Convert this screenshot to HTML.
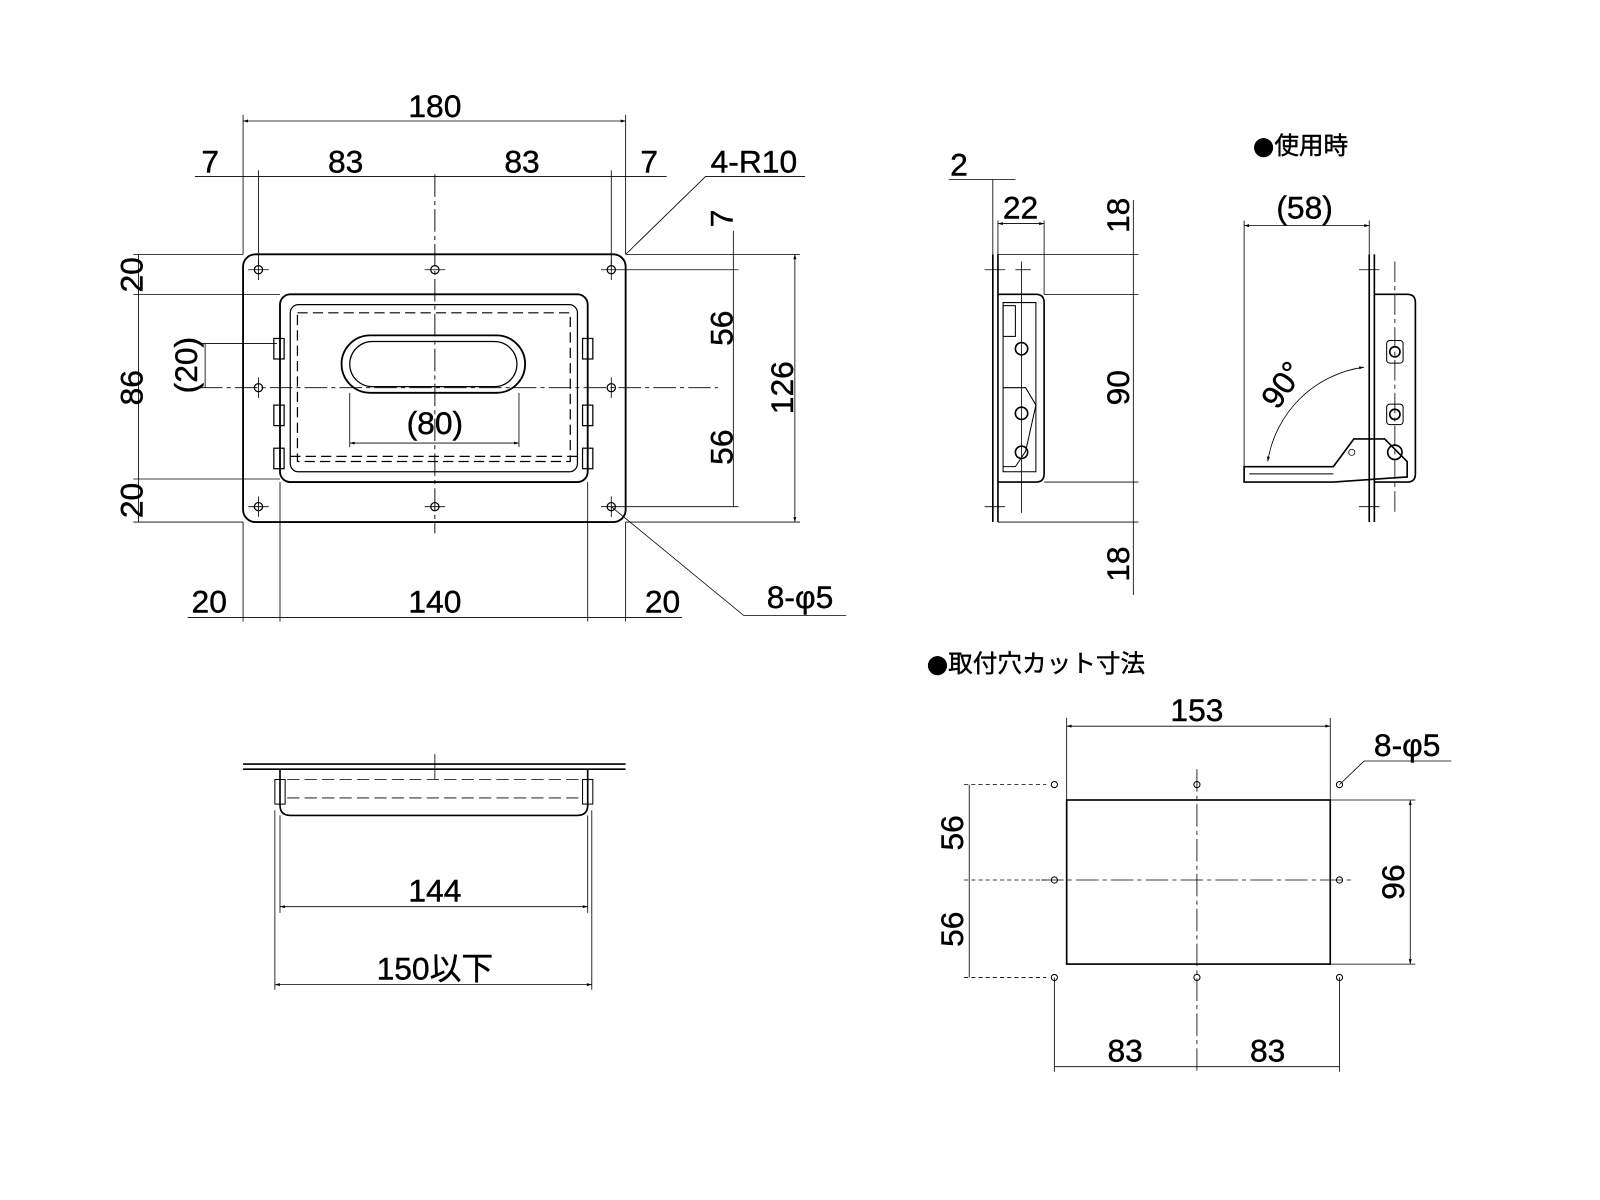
<!DOCTYPE html>
<html><head><meta charset="utf-8"><style>
html,body{margin:0;padding:0;background:#fff;}
svg{display:block}
text{font-family:"Liberation Sans","Noto Sans CJK JP",sans-serif;font-size:31px;fill:#000;text-anchor:middle;stroke:#000;stroke-width:0.4}
.b{font-family:"DejaVu Sans","Noto Sans CJK JP",sans-serif;font-size:24px}
</style></head><body>
<svg width="1600" height="1200" viewBox="0 0 1560 1170" preserveAspectRatio="none" xmlns="http://www.w3.org/2000/svg">
<defs>
<marker id="a" viewBox="0 0 10 10" refX="10" refY="5" markerWidth="8" markerHeight="6" orient="auto-start-reverse"><path d="M0,2 L10,5 L0,8z" fill="#000"/></marker>
</defs>
<g stroke="#000" fill="none" stroke-width="1.2">
<!-- FRONT VIEW -->
<rect x="237" y="248" width="373" height="261" rx="12" stroke-width="1.8"/>
<rect x="273" y="287" width="300" height="183" rx="10" stroke-width="1.8"/>
<rect x="283" y="297" width="280" height="163" rx="8"/>
<rect x="290" y="305" width="266" height="145" stroke-dasharray="10,5"/>
<rect x="333" y="327" width="179" height="56" rx="28" stroke-width="1.8"/>
<rect x="341" y="333" width="163" height="44" rx="22"/>
<rect x="267" y="330" width="10" height="20"/><rect x="267" y="395" width="10" height="20"/><rect x="267" y="437" width="10" height="20"/>
<rect x="568" y="330" width="10" height="20"/><rect x="568" y="395" width="10" height="20"/><rect x="568" y="437" width="10" height="20"/>
<line x1="283" y1="445" x2="563" y2="445" stroke-dasharray="10,5"/>
<line x1="424" y1="170" x2="424" y2="520" stroke-dasharray="22,4,4,4" stroke-width="0.9"/>
<line x1="195" y1="378" x2="700" y2="378" stroke-dasharray="22,4,4,4" stroke-width="0.9"/>
<g stroke-width="1.2">
<circle cx="252" cy="263" r="4"/><circle cx="424" cy="263" r="4"/><circle cx="596" cy="263" r="4"/>
<circle cx="252" cy="378" r="4"/><circle cx="596" cy="378" r="4"/>
<circle cx="252" cy="494" r="4"/><circle cx="424" cy="494" r="4"/><circle cx="596" cy="494" r="4"/>
</g>
<g stroke-width="0.8">
<line x1="242" y1="263" x2="262" y2="263"/><line x1="252" y1="253" x2="252" y2="273"/>
<line x1="414" y1="263" x2="434" y2="263"/><line x1="586" y1="263" x2="606" y2="263"/><line x1="596" y1="253" x2="596" y2="273"/>
<line x1="252" y1="368" x2="252" y2="388"/><line x1="596" y1="368" x2="596" y2="388"/>
<line x1="242" y1="494" x2="262" y2="494"/><line x1="252" y1="484" x2="252" y2="504"/>
<line x1="414" y1="494" x2="434" y2="494"/><line x1="586" y1="494" x2="606" y2="494"/><line x1="596" y1="484" x2="596" y2="504"/>
</g>
<line x1="237" y1="112" x2="237" y2="248" stroke-width="0.8"/><line x1="610" y1="112" x2="610" y2="248" stroke-width="0.8"/>
<line x1="252" y1="166" x2="252" y2="258" stroke-width="0.8"/><line x1="596" y1="166" x2="596" y2="258" stroke-width="0.8"/>
<line x1="237" y1="118" x2="610" y2="118" marker-start="url(#a)" marker-end="url(#a)" stroke-width="0.8"/>
<line x1="190" y1="172" x2="650" y2="172" stroke-width="0.8"/>
<polyline points="610,248 688,172 785,172" stroke-width="0.8"/>
<g stroke-width="0.8">
<line x1="130" y1="248" x2="237" y2="248"/><line x1="130" y1="287" x2="273" y2="287"/>
<line x1="130" y1="467" x2="273" y2="467"/><line x1="130" y1="509" x2="237" y2="509"/>
<line x1="135" y1="248" x2="135" y2="509"/>
<line x1="195" y1="335" x2="270" y2="335"/><line x1="200" y1="335" x2="200" y2="378"/>
<line x1="341" y1="383" x2="341" y2="436"/><line x1="506" y1="383" x2="506" y2="436"/>
<line x1="341" y1="432" x2="506" y2="432" marker-start="url(#a)" marker-end="url(#a)"/>
<line x1="610" y1="248" x2="780" y2="248"/><line x1="606" y1="263" x2="720" y2="263"/>
<line x1="606" y1="494" x2="720" y2="494"/><line x1="610" y1="509" x2="780" y2="509"/>
<line x1="715" y1="225" x2="715" y2="494"/>
<line x1="775" y1="248" x2="775" y2="509" marker-start="url(#a)" marker-end="url(#a)"/>
<line x1="237" y1="509" x2="237" y2="606"/><line x1="610" y1="509" x2="610" y2="606"/>
<line x1="273" y1="470" x2="273" y2="606"/><line x1="573" y1="470" x2="573" y2="606"/>
<line x1="183" y1="602" x2="665" y2="602"/>
<polyline points="596,494 725,600 825,600"/>
</g>

<!-- SIDE VIEW -->
<g stroke-width="1.6">
<line x1="968" y1="248" x2="968" y2="509"/><line x1="973" y1="248" x2="973" y2="509"/>
<path d="M973,287 L1010,287 Q1018,287 1018,295 L1018,462 Q1018,470 1010,470 L973,470"/>
<path d="M978,295 L1010,295 L1010,460 L978,460 Z" stroke-width="1"/>
<rect x="978" y="298" width="12" height="30" stroke-width="1"/>
<circle cx="996" cy="340" r="6"/><circle cx="996" cy="403" r="6"/><circle cx="996" cy="441" r="6"/>
<path d="M978,378 L1000,378 L1010,395 L1000,440 L990,455 L978,455" stroke-width="1"/>
</g>
<g stroke-width="0.8">
<line x1="960" y1="263" x2="980" y2="263"/><line x1="960" y1="494" x2="980" y2="494"/>
<line x1="990" y1="263" x2="1005" y2="263"/><line x1="996" y1="255" x2="996" y2="500"/>
<line x1="968" y1="175" x2="968" y2="248"/><line x1="973" y1="215" x2="973" y2="248"/>
<line x1="1018" y1="215" x2="1018" y2="287"/>
<line x1="925" y1="175" x2="990" y2="175"/>
<line x1="973" y1="218" x2="1018" y2="218" marker-start="url(#a)" marker-end="url(#a)"/>
<line x1="973" y1="248" x2="1110" y2="248"/><line x1="1018" y1="287" x2="1110" y2="287"/>
<line x1="1018" y1="470" x2="1110" y2="470"/><line x1="973" y1="509" x2="1110" y2="509"/>
<line x1="1105" y1="195" x2="1105" y2="580"/>
</g>

<!-- USE VIEW -->
<g stroke-width="1.6">
<line x1="1335" y1="248" x2="1335" y2="509"/><line x1="1340" y1="248" x2="1340" y2="509"/>
<path d="M1340,287 L1372,287 Q1380,287 1380,295 L1380,462 Q1380,470 1372,470 L1340,470"/>
<rect x="1352" y="332" width="16" height="22" rx="3" stroke-width="1"/>
<rect x="1352" y="394" width="16" height="20" rx="3" stroke-width="1"/>
<circle cx="1360" cy="343" r="5"/><circle cx="1360" cy="404" r="5"/><circle cx="1360" cy="441" r="7"/>
<path d="M1213,455 L1300,455 L1320,428 L1350,428 L1372,450 L1372,465 L1300,470 L1213,470 Z"/>
<path d="M1218,462 L1300,462" stroke-width="1"/>
</g>
<g stroke-width="0.8">
<circle cx="1318" cy="441" r="3"/>
<line x1="1213" y1="215" x2="1213" y2="470"/><line x1="1335" y1="215" x2="1335" y2="248"/>
<line x1="1213" y1="220" x2="1335" y2="220" marker-start="url(#a)" marker-end="url(#a)"/>
<path d="M1236,450 A110,110 0 0 1 1330,358" marker-start="url(#a)" marker-end="url(#a)"/>
<line x1="1325" y1="263" x2="1345" y2="263"/><line x1="1325" y1="494" x2="1345" y2="494"/>
<line x1="1360" y1="255" x2="1360" y2="500" stroke-dasharray="20,4,4,4"/>
</g>

<!-- BOTTOM VIEW -->
<g stroke-width="1.6">
<line x1="237" y1="745" x2="610" y2="745"/><line x1="237" y1="750" x2="610" y2="750"/>
<path d="M273,750 L273,785 Q273,795 283,795 L563,795 Q573,795 573,785 L573,750"/>
<rect x="268" y="760" width="10" height="24" stroke-width="1"/><rect x="568" y="760" width="10" height="24" stroke-width="1"/>
</g>
<g stroke-width="0.8">
<line x1="280" y1="760" x2="566" y2="760" stroke-dasharray="12,5"/>
<line x1="280" y1="778" x2="566" y2="778" stroke-dasharray="12,5"/>
<line x1="424" y1="735" x2="424" y2="760"/>
<line x1="273" y1="795" x2="273" y2="890"/><line x1="573" y1="795" x2="573" y2="890"/>
<line x1="273" y1="884" x2="573" y2="884" marker-start="url(#a)" marker-end="url(#a)"/>
<line x1="268" y1="790" x2="268" y2="965"/><line x1="577" y1="790" x2="577" y2="965"/>
<line x1="268" y1="960" x2="577" y2="960" marker-start="url(#a)" marker-end="url(#a)"/>
</g>

<!-- CUTOUT -->
<rect x="1040" y="780" width="257" height="160" stroke-width="1.6"/>
<g stroke-width="0.8">
<line x1="1167" y1="750" x2="1167" y2="1045" stroke-dasharray="22,4,4,4"/>
<line x1="1015" y1="858" x2="1320" y2="858" stroke-dasharray="22,4,4,4"/>
<line x1="940" y1="765" x2="1020" y2="765" stroke-dasharray="4,3"/><line x1="940" y1="858" x2="1020" y2="858" stroke-dasharray="4,3"/><line x1="940" y1="953" x2="1020" y2="953" stroke-dasharray="4,3"/>
<line x1="945" y1="765" x2="945" y2="953"/>
<line x1="1040" y1="700" x2="1040" y2="780"/><line x1="1297" y1="700" x2="1297" y2="780"/>
<line x1="1040" y1="708" x2="1297" y2="708" marker-start="url(#a)" marker-end="url(#a)"/>
<line x1="1297" y1="780" x2="1380" y2="780"/><line x1="1297" y1="940" x2="1380" y2="940"/>
<line x1="1375" y1="780" x2="1375" y2="940" marker-start="url(#a)" marker-end="url(#a)"/>
<line x1="1028" y1="953" x2="1028" y2="1045"/><line x1="1306" y1="953" x2="1306" y2="1045"/>
<line x1="1028" y1="1040" x2="1306" y2="1040"/>
<polyline points="1306,765 1330,742 1415,742"/>
</g>
<g stroke-width="1">
<circle cx="1028" cy="765" r="3"/><circle cx="1167" cy="765" r="3"/><circle cx="1306" cy="765" r="3"/>
<circle cx="1028" cy="858" r="3"/><circle cx="1306" cy="858" r="3"/>
<circle cx="1028" cy="953" r="3"/><circle cx="1167" cy="953" r="3"/><circle cx="1306" cy="953" r="3"/>
</g>
</g>

<g>
<text x="424" y="114">180</text>
<text x="205" y="168">7</text><text x="337" y="168">83</text><text x="509" y="168">83</text><text x="633" y="168">7</text>
<text x="735" y="168">4-R10</text>
<text x="780" y="593">8-φ5</text>
<text x="204" y="597">20</text><text x="424" y="597">140</text><text x="646" y="597">20</text>
<text x="424" y="423">(80)</text>
<text transform="translate(128,268) rotate(-90)" y="11">20</text>
<text transform="translate(128,378) rotate(-90)" y="11">86</text>
<text transform="translate(128,488) rotate(-90)" y="11">20</text>
<text transform="translate(181,356) rotate(-90)" y="11">(20)</text>
<text transform="translate(703,213) rotate(-90)" y="11">7</text>
<text transform="translate(703,320) rotate(-90)" y="11">56</text>
<text transform="translate(703,436) rotate(-90)" y="11">56</text>
<text transform="translate(762,378) rotate(-90)" y="11">126</text>
<text x="935" y="171">2</text><text x="995" y="213">22</text>
<text transform="translate(1090,210) rotate(-90)" y="11">18</text>
<text transform="translate(1090,378) rotate(-90)" y="11">90</text>
<text transform="translate(1090,550) rotate(-90)" y="11">18</text>
<text x="1268" y="150" class="b">●使用時</text>
<text x="1272" y="213">(58)</text>
<text transform="translate(1250,375) rotate(-55)" y="11">90°</text>
<text x="424" y="879">144</text>
<text x="424" y="955">150以下</text>
<text x="1010" y="655" class="b">●取付穴カット寸法</text>
<text x="1167" y="703">153</text>
<text x="1372" y="737">8-φ5</text>
<text transform="translate(928,812) rotate(-90)" y="11">56</text>
<text transform="translate(928,906) rotate(-90)" y="11">56</text>
<text transform="translate(1358,860) rotate(-90)" y="11">96</text>
<text x="1097" y="1035">83</text><text x="1236" y="1035">83</text>
</g>
</svg>
</body></html>
